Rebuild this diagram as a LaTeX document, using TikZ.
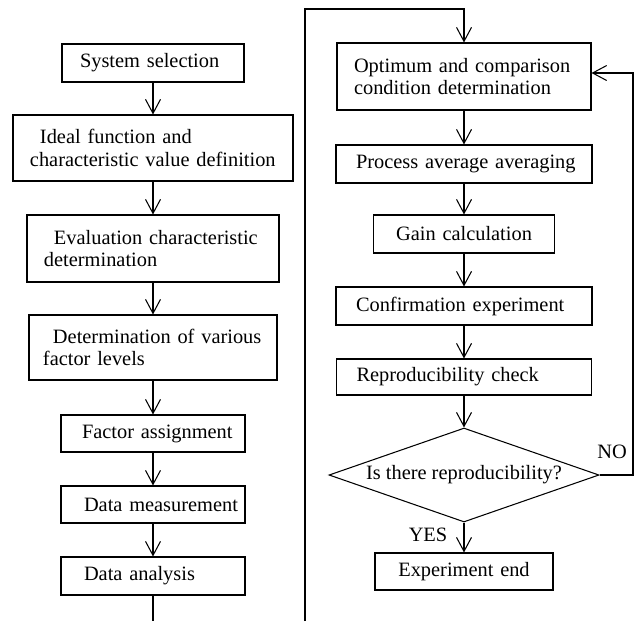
\documentclass[tikz,border=0pt]{standalone}
\usepackage{fontspec}
\setmainfont{Liberation Serif}
\usetikzlibrary{arrows.meta,shapes.geometric}

\begin{document}
\begin{tikzpicture}[x=0.2mm,y=-0.2mm,
    stage/.style={draw,line width=0.6pt,inner ysep=0pt,align=left,
      font=\fontsize{11.6pt}{12.8pt}\selectfont},
    flow/.style={line width=0.6pt,-{Straight Barb[length=2.8mm,width=3mm]}},
    link/.style={line width=0.6pt},
    tag/.style={font=\fontsize{11.6pt}{12.8pt}\selectfont}]
      \useasboundingbox (0,0) rectangle (635,621);

      \node [stage,inner xsep=0pt,text width=36.4mm,minimum height=7.6mm] (sys) at (153,63) {\hspace*{3.6mm}System selection};
      \node [stage,inner xsep=3.4mm,text width=49.2mm,minimum height=13.2mm] (ideal) at (153,148) {\hspace*{2mm}Ideal function and\\characteristic value definition};
      \node [stage,inner xsep=3.4mm,text width=43.6mm,minimum height=13.4mm] (eval) at (153,248.5) {\hspace*{2mm}Evaluation characteristic\\determination};
      \node [stage,inner xsep=2.8mm,text width=44mm,minimum height=13mm] (det) at (153,347.5) {\hspace*{2mm}Determination of various\\factor levels};
      \node [stage,inner xsep=0pt,text width=36.8mm,minimum height=7.4mm] (fac) at (153,433.5) {\hspace*{4.2mm}Factor assignment};
      \node [stage,inner xsep=0pt,text width=36.8mm,minimum height=7.4mm] (meas) at (153,504.5) {\hspace*{4.6mm}Data measurement};
      \node [stage,inner xsep=0pt,text width=36.8mm,minimum height=7.6mm] (ana) at (153,576) {\hspace*{4.6mm}Data analysis};

      \node [stage,inner xsep=3.4mm,text width=44mm,minimum height=13.4mm] (opt) at (464,76.5) {Optimum and comparison\\condition determination};
      \node [stage,inner xsep=0pt,text width=51.2mm,minimum height=7.6mm] (proc) at (464,164) {\hspace*{4mm}Process average averaging};
      \node [stage,inner xsep=0pt,text width=36.2mm,minimum height=7.6mm,align=center] (gain) at (464,234) {Gain calculation};
      \node [stage,inner xsep=0pt,text width=51.2mm,minimum height=7.6mm] (conf) at (464,306) {\hspace*{4mm}Confirmation experiment};
      \node [stage,inner xsep=0pt,text width=51mm,minimum height=7.2mm] (repro) at (464,377) {\hspace*{4mm}Reproducibility check};
      \node [stage,shape=diamond,shape aspect=2.87,inner sep=0pt,minimum width=54mm,minimum height=18.8mm,align=center] (dec) at (464,475) {Is there reproducibility?};
      \node [stage,inner xsep=0pt,text width=35.6mm,minimum height=7.4mm,align=center] (endbox) at (464,571.5) {Experiment end};

      \node [tag] (no) at (612,452) {NO};
      \node [tag] (yes) at (428,535) {YES};

      \coordinate (cutl) at (153,621);
      \coordinate (cutr) at (305,621);
      \coordinate (top) at (305,9);
      \coordinate (back) at (633,73);

      \draw [flow] (sys) -- (ideal);
      \draw [flow] (ideal) -- (eval);
      \draw [flow] (eval) -- (det);
      \draw [flow] (det) -- (fac);
      \draw [flow] (fac) -- (meas);
      \draw [flow] (meas) -- (ana);
      \draw [link] (ana) -- (cutl);

      \draw [flow] (cutr) -- (top) -| (opt);
      \draw [flow] (opt) -- (proc);
      \draw [flow] (proc) -- (gain);
      \draw [flow] (gain) -- (conf);
      \draw [flow] (conf) -- (repro);
      \draw [flow] (repro) -- (dec);
      \draw [flow] (dec) -- (endbox);
      \draw [flow] (dec.east) -- (dec.east -| back) -- (back) -- (opt.east |- back);
    \end{tikzpicture}
\end{document}
